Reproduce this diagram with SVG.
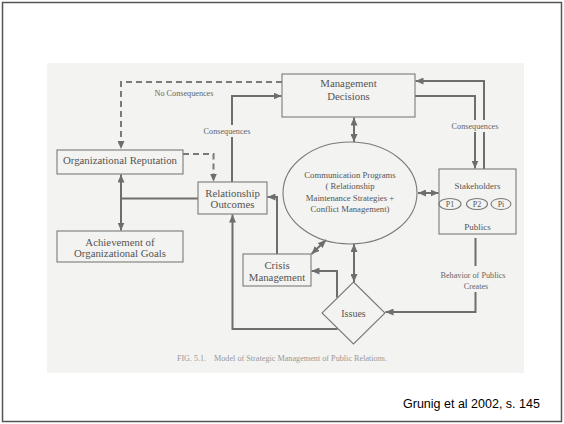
<svg xmlns="http://www.w3.org/2000/svg" width="564" height="424" viewBox="0 0 564 424">
<defs>
<style>
.box{fill:none;stroke:#7a7a7a;stroke-width:1.1}
.t{font-family:"Liberation Serif","DejaVu Serif",serif;fill:#555;text-anchor:middle}
.l{font-size:10.8px}
.s{font-size:8.7px}
.c{stroke:#6e6e6e;stroke-width:2;fill:none}
.d{stroke:#7a7a7a;stroke-width:2;fill:none;stroke-dasharray:6 4}
.lbl{font-family:"Liberation Serif","DejaVu Serif",serif;fill:#666;text-anchor:middle;font-size:8.2px}
.bg{fill:#f3f3f1}
</style>
<marker id="a" viewBox="0 0 8 7" refX="8" refY="3.5" markerWidth="8" markerHeight="7" markerUnits="userSpaceOnUse" orient="auto-start-reverse">
<path d="M0,0 L8,3.5 L0,7 z" fill="#6e6e6e"/>
</marker>
</defs>
<rect x="0" y="0" width="564" height="424" fill="#ffffff"/>
<rect x="2.5" y="2.5" width="559" height="419" fill="none" stroke="#555" stroke-width="1.5"/>
<rect x="47" y="63" width="477" height="310" class="bg"/>

<g id="connectors">
<path class="d" d="M282,82 H121 V149" marker-end="url(#a)"/>
<path class="d" d="M183,154 H213.5 V181.5" marker-end="url(#a)"/>
<path class="c" d="M232,182 V96 H281.5" marker-end="url(#a)"/>
<path class="c" d="M484,169 V81 H415.5" marker-end="url(#a)"/>
<path class="c" d="M415,96 H475 V168.5" marker-end="url(#a)"/>
<path class="c" d="M354,117.5 V142" marker-start="url(#a)" marker-end="url(#a)"/>
<path class="c" d="M418,193 H438.5" marker-start="url(#a)" marker-end="url(#a)"/>
<path class="c" d="M121,174.5 V230.5" marker-start="url(#a)" marker-end="url(#a)"/>
<path class="c" d="M198,198.5 H121"/>
<path class="c" d="M277,254 V197 H267.5" marker-end="url(#a)"/>
<path class="c" d="M337,297.5 V271 H311.5" marker-end="url(#a)"/>
<path class="c" d="M337.5,329 H232.5 V214.5" marker-end="url(#a)"/>
<path class="c" d="M354,244 V282" marker-start="url(#a)" marker-end="url(#a)"/>
<path class="c" d="M311.5,254 L326,240" marker-start="url(#a)" marker-end="url(#a)"/>
<path class="c" d="M475.5,238 V312 H385.5" marker-end="url(#a)"/>
<text class="lbl" x="184" y="95.5" font-size="8">No Consequences</text>
<rect class="bg" x="203" y="125" width="48" height="12"/>
<text class="lbl" x="227" y="134">Consequences</text>
<rect class="bg" x="451" y="120" width="48" height="12"/>
<text class="lbl" x="475" y="129">Consequences</text>
<rect class="bg" x="436" y="266" width="76" height="26"/>
<text class="lbl" x="473" y="277.5" font-size="9">Behavior of Publics</text>
<text class="lbl" x="476" y="289" font-size="9">Creates</text>
</g>

<g id="management-decisions">
<rect class="box" x="282" y="74" width="133" height="43"/>
<text class="t l" x="348.5" y="86.5">Management</text>
<text class="t l" x="348.5" y="99.5">Decisions</text>
</g>

<g id="organizational-reputation">
<rect class="box" x="57" y="150" width="126" height="24"/>
<text class="t l" x="120" y="164">Organizational Reputation</text>
</g>

<g id="relationship-outcomes">
<rect class="box" x="198" y="182" width="69" height="32"/>
<text class="t l" x="232.5" y="196.5">Relationship</text>
<text class="t l" x="232.5" y="208">Outcomes</text>
</g>

<g id="achievement">
<rect class="box" x="57" y="231" width="126" height="31"/>
<text class="t l" x="120" y="245.5">Achievement of</text>
<text class="t l" x="120" y="257">Organizational Goals</text>
</g>

<g id="crisis-management">
<rect class="box" x="243" y="254" width="68" height="32"/>
<text class="t l" x="277" y="268.5">Crisis</text>
<text class="t l" x="277" y="280.5">Management</text>
</g>

<g id="communication-programs">
<ellipse class="box" cx="350" cy="193" rx="67" ry="51" stroke-width="1.4"/>
<text class="t s" x="350" y="178">Communication Programs</text>
<text class="t s" x="350" y="189">( Relationship</text>
<text class="t s" x="350" y="200.5">Maintenance Strategies +</text>
<text class="t s" x="350" y="212">Conflict Management)</text>
</g>

<g id="stakeholders">
<rect class="box" x="439" y="169" width="77" height="65"/>
<text class="t" x="477.5" y="189" font-size="8.9">Stakeholders</text>
<ellipse class="box" cx="450" cy="204" rx="11" ry="5.5"/>
<ellipse class="box" cx="477" cy="204" rx="10.5" ry="5.5"/>
<ellipse class="box" cx="501" cy="204" rx="10" ry="5.5"/>
<text class="t" x="450" y="207" font-size="8">P1</text>
<text class="t" x="477" y="207" font-size="8">P2</text>
<text class="t" x="501" y="207" font-size="8">Pi</text>
<text class="t" x="477.5" y="230" font-size="9">Publics</text>
</g>

<g id="issues">
<polygon class="box" points="353.5,282 385,313 353.5,344 322,313" stroke-width="1.4"/>
<text class="t" x="353.5" y="316.5" font-size="10">Issues</text>
</g>

<g id="caption">
<text x="177" y="360.5" font-family="Liberation Serif, serif" font-size="8" fill="#999">FIG. 5.1.</text>
<text x="214" y="360.5" font-family="Liberation Serif, serif" font-size="8.2" fill="#999">Model of Strategic Management of Public Relations.</text>
</g>

<text x="403" y="408" font-family="Liberation Sans, Arial, sans-serif" font-size="12.5" fill="#000">Grunig et al 2002, s. 145</text>
</svg>
